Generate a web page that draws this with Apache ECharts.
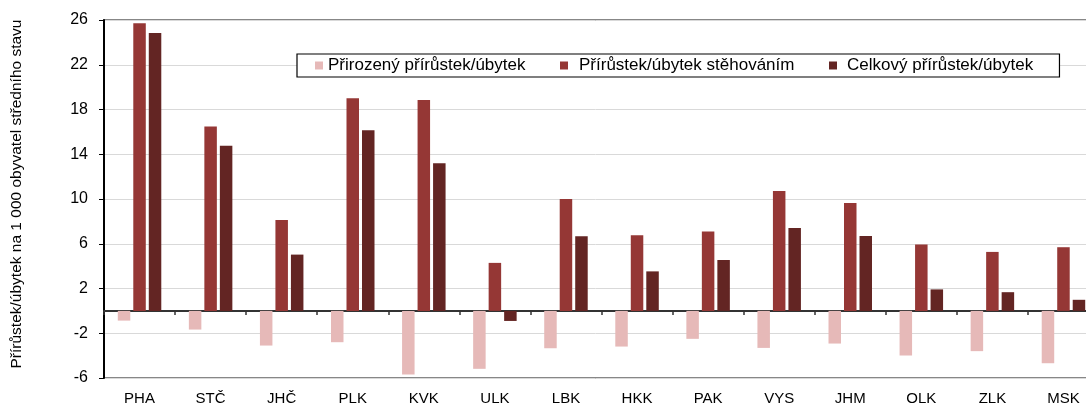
<!DOCTYPE html>
<html>
<head>
<meta charset="utf-8">
<script src="https://cdn.jsdelivr.net/npm/echarts@6/dist/echarts.min.js"></script>
<style>
html,body{margin:0;padding:0;background:#fff;}
#c{width:1086px;height:405px;}
</style>
</head>
<body>
<div id="c"></div>
<script>
const categories = ['PHA','STČ','JHČ','PLK','KVK','ULK','LBK','HKK','PAK','VYS','JHM','OLK','ZLK','MSK'];
const seriesNames = ['Přirozený přírůstek/úbytek','Přírůstek/úbytek stěhováním','Celkový přírůstek/úbytek'];
const natural = [-0.87,-1.67,-3.1,-2.8,-5.69,-5.18,-3.34,-3.19,-2.5,-3.31,-2.92,-3.99,-3.6,-4.68];
const migration = [25.7,16.47,8.13,19.0,18.86,4.29,10.0,6.76,7.09,10.72,9.65,5.93,5.27,5.69];
const total = [24.84,14.77,5.03,16.15,13.2,-0.9,6.67,3.53,4.55,7.4,6.7,1.92,1.67,0.99];
const yMin = -6, yMax = 26, yStep = 4;
const yTitle = 'Přírůstek/úbytek na 1 000 obyvatel středního stavu';

const colors = ['#E6B9B8','#953735','#632523'];
const font = '"Liberation Sans", Arial, sans-serif';

const chart = echarts.init(document.getElementById('c'));
const mk = (name, data, i) => ({
  name, type:'bar', data, xAxisIndex:0, yAxisIndex:0,
  barWidth:12.5, barGap:'24%',
  itemStyle:{color:colors[i]},
  emphasis:{disabled:true}
});
const legendText = (padLeft) => ({fontFamily:font, fontSize:17, color:'#000',
  rich:{t:{fontFamily:font, fontSize:17, color:'#000', padding:[0,0,0,padLeft]}}});
const legendCommon = {orient:'horizontal', itemWidth:8, itemHeight:8, icon:'rect', selectedMode:false};
chart.setOption({
  animation:false,
  textStyle:{fontFamily:font},
  grid:{left:104, top:20, bottom:27, right:-13, outerBoundsMode:'none', containLabel:false,
        show:true, borderColor:'#111', borderWidth:1.2, backgroundColor:'transparent'},
  legend:[
    Object.assign({}, legendCommon, {
      left:297, top:54, z:3,
      backgroundColor:'#fff', borderColor:'#000', borderWidth:1.2,
      padding:[3,534,3,18],
      textStyle:legendText(0), formatter:n => '{t|' + n + '}',
      data:[seriesNames[0]]}),
    Object.assign({}, legendCommon, {
      left:560, top:57, z:5, padding:0,
      textStyle:legendText(6), formatter:n => '{t|' + n + '}',
      data:[seriesNames[1]]}),
    Object.assign({}, legendCommon, {
      left:829, top:57, z:5, padding:0,
      textStyle:legendText(5), formatter:n => '{t|' + n + '}',
      data:[seriesNames[2]]})
  ],
  xAxis:[
    {type:'category', data:categories, position:'bottom',
     axisLine:{onZero:true, lineStyle:{color:'#333', width:2}},
     axisTick:{show:true, length:4, lineStyle:{color:'#333', width:1.5}},
     axisLabel:{show:false}, splitLine:{show:false}},
    {type:'category', data:categories, position:'bottom',
     axisLine:{show:false, onZero:false}, axisTick:{show:false},
     axisLabel:{margin:13, fontSize:15, color:'#000', fontFamily:font}}
  ],
  yAxis:{
    type:'value', min:yMin, max:yMax, interval:yStep,
    name:yTitle, nameLocation:'middle', nameGap:79,
    nameTextStyle:{fontSize:15.5, color:'#000', fontFamily:font, padding:[0,0,0,10]},
    axisLine:{show:true, lineStyle:{color:'#000', width:2}},
    axisTick:{show:true, length:5, lineStyle:{color:'#000'}},
    axisLabel:{margin:16, fontSize:16, color:'#000', fontFamily:font},
    splitLine:{show:true, lineStyle:{color:'#d9d9d9', width:1}}
  },
  series:[mk(seriesNames[0], natural, 0), mk(seriesNames[1], migration, 1), mk(seriesNames[2], total, 2)]
});
</script>
</body>
</html>
